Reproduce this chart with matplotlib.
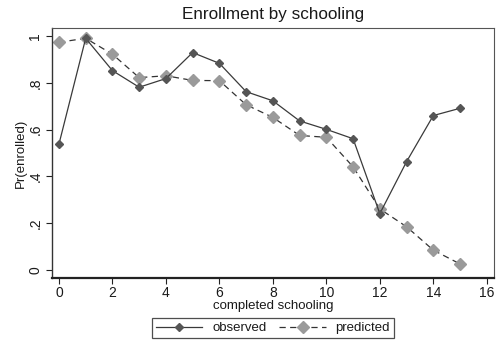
import matplotlib
matplotlib.use("Agg")
import matplotlib.pyplot as plt
from matplotlib.lines import Line2D

plt.rcParams['font.family'] = ['Liberation Sans', 'DejaVu Sans']

schooling = list(range(16))
observed = [0.538, 0.990, 0.852, 0.781, 0.818, 0.929, 0.883, 0.762,
            0.723, 0.637, 0.601, 0.561, 0.241, 0.463, 0.660, 0.691]
predicted = [0.973, 0.990, 0.922, 0.822, 0.830, 0.810, 0.809, 0.706,
             0.652, 0.575, 0.567, 0.441, 0.261, 0.185, 0.085, 0.026]
xticks = [0, 2, 4, 6, 8, 10, 12, 14, 16]
yticks = [0, 0.2, 0.4, 0.6, 0.8, 1.0]
ytick_labels = ['0', '.2', '.4', '.6', '.8', '1']

W, H = 496, 348
fig = plt.figure(figsize=(W / 100, H / 100), dpi=100)
fig.patch.set_facecolor('white')
ax = fig.add_axes([52 / W, 1 - 278 / H, (494 - 52) / W, (278 - 28) / H])

txt = '#1a1a1a'
ax.plot(schooling, predicted, linestyle=(0, (5, 3.5)), color='#333333', lw=0.9,
        marker='D', markersize=6.5, markerfacecolor='#9a9a9a',
        markeredgecolor='#9a9a9a', zorder=2)
ax.plot(schooling, observed, linestyle='-', color='#3a3a3a', lw=0.9,
        marker='D', markersize=4, markerfacecolor='#555555',
        markeredgecolor='#555555', zorder=3)

ax.set_xlim(-0.26, 16.27)
ax.set_ylim(-0.034, 1.034)
ax.set_xticks(xticks)
ax.set_xticklabels([str(t) for t in xticks], fontsize=10, color=txt)
ax.set_yticks(yticks)
ax.set_yticklabels(ytick_labels, fontsize=10, color=txt, rotation=90, va='center')
ax.tick_params(axis='both', direction='out', length=4, width=0.8, color='#222222')
ax.tick_params(axis='x', pad=2)
ax.tick_params(axis='y', pad=3)

for s in ['top', 'right']:
    ax.spines[s].set_color('#555555')
    ax.spines[s].set_linewidth(0.8)
ax.spines['left'].set_color('#333333')
ax.spines['left'].set_linewidth(1.0)
ax.spines['bottom'].set_color('#222222')
ax.spines['bottom'].set_linewidth(1.6)

fig.text(273 / W, 1 - 14 / H, 'Enrollment by schooling', fontsize=12.3,
         color=txt, ha='center', va='center')
fig.text(273 / W, 1 - 306 / H, 'completed schooling', fontsize=9.5,
         color=txt, ha='center', va='center')
fig.text(21 / W, 1 - 153 / H, 'Pr(enrolled)', fontsize=9.5, color=txt,
         ha='center', va='center', rotation=90)

h1 = Line2D([], [], linestyle='-', color='#3a3a3a', lw=0.9, marker='D',
            markersize=4, markerfacecolor='#555555', markeredgecolor='#555555')
h2 = Line2D([], [], linestyle=(0, (5, 3.5)), color='#333333', lw=0.9, marker='D',
            markersize=6, markerfacecolor='#9a9a9a', markeredgecolor='#9a9a9a')
leg = fig.legend([h1, h2], ['observed', 'predicted'], loc='center',
                 bbox_to_anchor=(273 / W, 1 - 328 / H), ncol=2, fontsize=9.5,
                 frameon=True, fancybox=False, handlelength=3.5,
                 columnspacing=1.0, handletextpad=0.75, borderpad=0.3,
                 borderaxespad=0, edgecolor='#222222')
leg.get_frame().set_linewidth(0.9)
for t in leg.get_texts():
    t.set_color(txt)

fig.savefig('out.png', dpi=100, facecolor='white')
